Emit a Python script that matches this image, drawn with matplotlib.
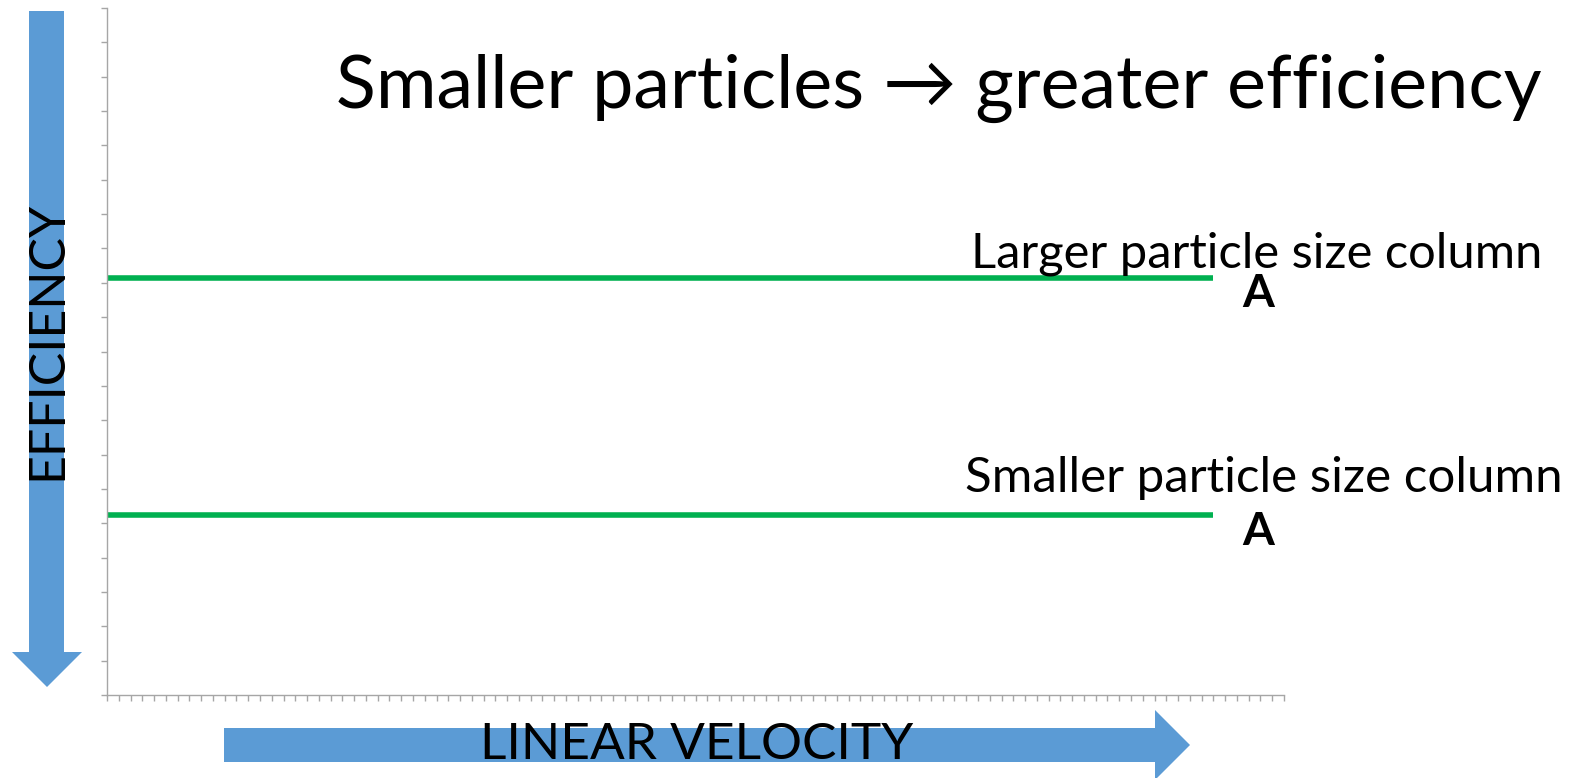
import matplotlib.pyplot as plt
from matplotlib.patches import Polygon
import numpy as np

# Data
x_range = [0, 94]
larger_column = [12.15, 12.15]
smaller_column = [5.24, 5.24]
series_labels = ["Larger particle size column", "Smaller particle size column"]
peak_label = "A"
title = "Smaller particles \u2192 greater efficiency"
x_label = "LINEAR VELOCITY"
y_label = "EFFICIENCY"

W, H = 1574, 778
DPI = 100
GREEN = "#00B050"
BLUE = "#5B9BD5"
GRAY = "#A6A6A6"
FONT = "Lato"

plt.rcParams['font.family'] = [FONT, 'DejaVu Sans']

fig = plt.figure(figsize=(W / DPI, H / DPI), dpi=DPI)
ax = fig.add_axes([107 / W, 1 - 695 / H, (1284 - 107) / W, (695 - 8) / H])

ax.plot(x_range, larger_column, color=GREEN, linewidth=4, solid_capstyle='butt', clip_on=False)
ax.plot(x_range, smaller_column, color=GREEN, linewidth=4, solid_capstyle='butt', clip_on=False)

ax.set_xlim(0, 100)
ax.set_ylim(0, 20)
ax.set_xticks(np.arange(0, 101, 1))
ax.set_yticks(np.arange(0, 21, 1))
ax.set_xticklabels([])
ax.set_yticklabels([])
ax.tick_params(axis='both', direction='out', length=4.5, width=1, color=GRAY)
for side in ['top', 'right']:
    ax.spines[side].set_visible(False)
for side in ['left', 'bottom']:
    ax.spines[side].set_color(GRAY)
    ax.spines[side].set_linewidth(1)

# Labels next to the lines
ax.text(97.7, larger_column[-1] + 0.3, series_labels[0], ha='center', va='baseline',
        fontsize=35.2, clip_on=False)
ax.text(97.8, larger_column[-1] - 0.86, peak_label, ha='center', va='baseline',
        fontsize=33, fontweight='bold', clip_on=False)
ax.text(98.3, smaller_column[-1] + 0.67, series_labels[1], ha='center', va='baseline',
        fontsize=35.5, clip_on=False)
ax.text(97.8, smaller_column[-1] - 0.87, peak_label, ha='center', va='baseline',
        fontsize=33, fontweight='bold', clip_on=False)

# Title
fig.text(1542 / W, 1 - 108 / H, title, ha='right', va='baseline', fontsize=53)


# Big blue arrows, drawn in pixel units (top-left origin)
def px(points):
    return [(x / DPI, (H - y) / DPI) for x, y in points]


down_arrow = [(29, 11), (64, 11), (64, 652), (82, 652), (47, 687), (12, 652), (29, 652)]
right_arrow = [(224, 728), (1155, 728), (1155, 710), (1190, 745), (1155, 780), (1155, 762), (224, 762)]
for pts in (down_arrow, right_arrow):
    fig.patches.append(Polygon(px(pts), closed=True, facecolor=BLUE, edgecolor='none',
                               transform=fig.dpi_scale_trans))

fig.text(47 / W, 1 - 340 / H, y_label, rotation=90, ha='center', va='center', fontsize=36)
fig.text(697 / W, 1 - 745 / H, x_label, ha='center', va='center', fontsize=37)

fig.savefig("out.png", dpi=DPI)
